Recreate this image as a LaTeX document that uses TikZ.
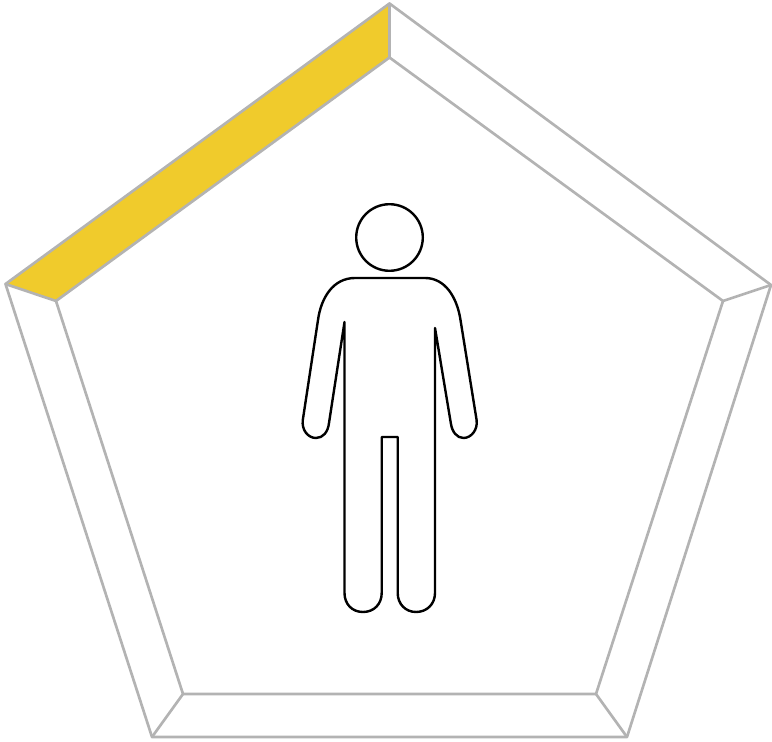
\documentclass[tikz,border=0pt]{standalone}
\definecolor{edgegrey}{HTML}{B3B3B3}
\definecolor{panelyellow}{HTML}{F0CB2C}
\tikzset{
  edgeline/.style={draw=edgegrey,line width=2pt,line join=round,line cap=round},
  figureline/.style={draw=black,line width=1.8pt,line join=round,fill=white},
}
\begin{document}
\begin{tikzpicture}[x=0.75pt,y=-0.75pt]
\useasboundingbox (0,0) rectangle (772,742);
\coordinate (ot) at (389.5,3.5);
\coordinate (or) at (771,285);
\coordinate (obr) at (627,737);
\coordinate (obl) at (152,737);
\coordinate (ol) at (5.5,284);
\coordinate (it) at (389.5,57.5);
\coordinate (ir) at (723,301);
\coordinate (ibr) at (596,694);
\coordinate (ibl) at (183,694);
\coordinate (il) at (56,301);
\fill[panelyellow] (ol) -- (ot) -- (it) -- (il) -- cycle;
\draw[edgeline] (ot) -- (or) -- (obr) -- (obl) -- (ol) -- cycle;
\draw[edgeline] (it) -- (ir) -- (ibr) -- (ibl) -- (il) -- cycle;
\draw[edgeline] (ot) -- (it) (or) -- (ir) (obr) -- (ibr) (obl) -- (ibl) (ol) -- (il);
\draw[figureline] (389.5,237.5) circle[radius=33.3];
\draw[figureline]
  (355,278) -- (425,278)
  .. controls (445,278) and (457,297) .. (460.5,320)
  -- (476.6,420)
  .. controls (478,430) and (471,438) .. (463.5,438)
  .. controls (457,438) and (452,432) .. (450.8,423)
  -- (435,328)
  -- (435,593)
  .. controls (435,604) and (427,612) .. (416,612)
  .. controls (405.5,612) and (397.7,604) .. (397.7,593)
  -- (397.7,437) -- (381.7,437) -- (381.7,593)
  .. controls (381.7,604) and (374,612) .. (363,612)
  .. controls (352,612) and (344.5,604) .. (344.5,593)
  -- (344.5,322)
  -- (329,423)
  .. controls (328,432) and (323,438) .. (316,438)
  .. controls (308,438) and (301.5,430) .. (302.8,420)
  -- (318,320)
  .. controls (321,298) and (333,278) .. (355,278)
  -- cycle;
\end{tikzpicture}
\end{document}
